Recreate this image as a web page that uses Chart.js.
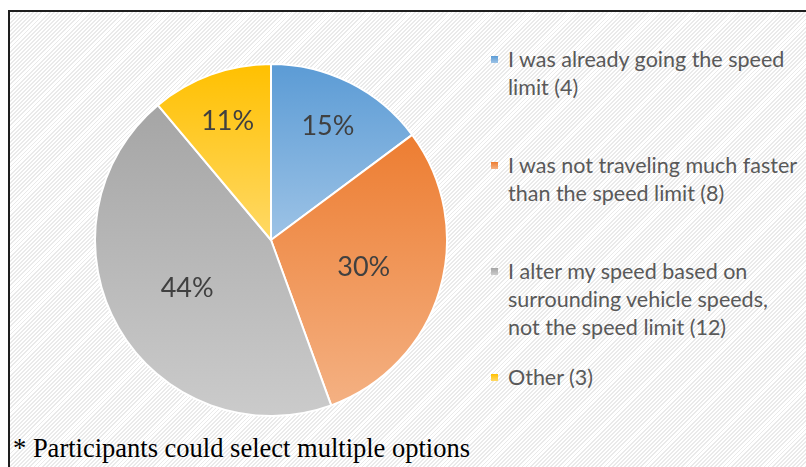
<!DOCTYPE html>
<html>
<head>
<meta charset="utf-8">
<script src="https://cdn.jsdelivr.net/npm/chart.js@4.4.1/dist/chart.umd.min.js"></script>
<style>
  html, body { margin: 0; padding: 0; background: #fff; overflow: hidden; }
  #frame {
    position: absolute; left: 8px; top: 10px; width: 820px; height: 480px;
    border-left: 2px solid #1e1e1e; border-top: 2px solid #1e1e1e;
    background: repeating-linear-gradient(135deg, #ffffff 0px, #ffffff 1.6px, #eaeaea 1.6px, #eaeaea 2.9px);
  }
  #pie { position: absolute; left: 84px; top: 51px; }
  #legend { position: absolute; left: 478px; top: 33px; font-family: Lato, "Open Sans", sans-serif; font-size: 21.5px; color: #595959; }
  .item { position: relative; height: 106px; padding-left: 20px; line-height: 28px; white-space: nowrap; }
  .box { position: absolute; left: 3px; top: 11px; width: 7px; height: 7px; }
  #note { position: absolute; left: 3px; top: 421px; font-family: "Liberation Serif", "Times New Roman", serif; font-size: 26.5px; color: #000; white-space: nowrap; }
</style>
</head>
<body>
<div id="frame">
  <canvas id="pie" width="354" height="354"></canvas>
  <div id="legend"></div>
  <div id="note">* Participants could select multiple options</div>
</div>
<script>
// respostas (contagem de participantes)
const categorias = [
    ["I was already going the speed", "limit (4)"],
    ["I was not traveling much faster", "than the speed limit (8)"],
    ["I alter my speed based on", "surrounding vehicle speeds,", "not the speed limit (12)"],
    ["Other (3)"]
];
const respostas = [4, 8, 12, 3];
const corEscura = ["#5b9bd5", "#ed7d31", "#a5a5a5", "#ffc000"];
const corClara = ["#9dc3e6", "#f4b183", "#cbcbcb", "#ffd966"];

const total = respostas.reduce((a, b) => a + b, 0);

// gradiente vertical dentro da caixa de cada fatia
function gradienteFatia(context) {
    const chart = context.chart;
    const area = chart.chartArea;
    const i = context.dataIndex;
    if (!area) return corEscura[i];
    const cx = (area.left + area.right) / 2;
    const cy = (area.top + area.bottom) / 2;
    const r = Math.min(area.right - area.left, area.bottom - area.top) / 2;
    let acum = 0;
    for (let k = 0; k < i; k++) acum += respostas[k];
    const a0 = -Math.PI / 2 + acum / total * Math.PI * 2;
    const a1 = a0 + respostas[i] / total * Math.PI * 2;
    let ys = [cy, cy + r * Math.sin(a0), cy + r * Math.sin(a1)];
    for (const a of [-Math.PI / 2, Math.PI / 2, 1.5 * Math.PI]) {
        if (a > a0 && a < a1) ys.push(cy + r * Math.sin(a));
    }
    const g = chart.ctx.createLinearGradient(0, Math.min(...ys), 0, Math.max(...ys));
    g.addColorStop(0, corEscura[i]);
    g.addColorStop(1, corClara[i]);
    return g;
}

// rótulos de porcentagem dentro das fatias
const rotulos = {
    id: "rotulos",
    afterDatasetsDraw(chart) {
        const ctx = chart.ctx;
        const meta = chart.getDatasetMeta(0);
        ctx.save();
        ctx.font = "27px Lato, 'Open Sans', sans-serif";
        ctx.fillStyle = "#404040";
        ctx.textAlign = "center";
        ctx.textBaseline = "middle";
        meta.data.forEach((arc, i) => {
            const p = arc.getProps(["x", "y", "startAngle", "endAngle", "outerRadius"], true);
            const meio = (p.startAngle + p.endAngle) / 2;
            const frac = (p.endAngle - p.startAngle) < 1.1 ? 0.72 : 0.55;
            const x = p.x + Math.cos(meio) * p.outerRadius * frac;
            const y = p.y + Math.sin(meio) * p.outerRadius * frac;
            ctx.fillText(Math.round(respostas[i] / total * 100) + "%", x, y);
        });
        ctx.restore();
    }
};

new Chart(document.getElementById("pie"), {
    type: "pie",
    data: {
        labels: categorias,
        datasets: [{
            data: respostas,
            backgroundColor: gradienteFatia,
            borderColor: "#ffffff",
            borderWidth: 2,
            hoverOffset: 0
        }]
    },
    options: {
        responsive: false,
        animation: false,
        layout: { padding: 0 },
        plugins: {
            legend: { display: false },
            tooltip: { enabled: false }
        }
    },
    plugins: [rotulos]
});

// legenda em HTML
const legenda = document.getElementById("legend");
categorias.forEach((linhas, i) => {
    legenda.innerHTML += '<div class="item">' +
        '<span class="box" style="background:linear-gradient(' + corEscura[i] + ',' + corClara[i] + ')"></span>' +
        linhas.join("<br>") +
        '</div>';
});
</script>
</body>
</html>
